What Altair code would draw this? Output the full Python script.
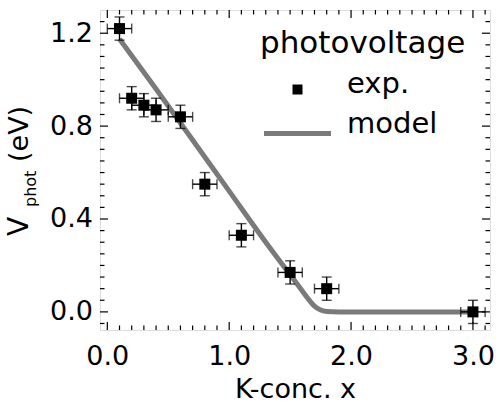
import altair as alt
import pandas as pd

# Experimental photovoltage vs. potassium concentration
conc = [0.1, 0.2, 0.3, 0.4, 0.6, 0.8, 1.1, 1.5, 1.8, 3.0]
vphot = [1.22, 0.92, 0.89, 0.87, 0.84, 0.55, 0.33, 0.17, 0.10, 0.00]
conc_err = [0.1, 0.1, 0.1, 0.1, 0.1, 0.1, 0.1, 0.1, 0.1, 0.1]
vphot_err = [0.05, 0.05, 0.05, 0.05, 0.05, 0.05, 0.05, 0.05, 0.05, 0.05]

# Model curve
model_x = [0.1, 0.4, 0.7, 1.0, 1.3, 1.5, 1.6, 1.65, 1.7, 1.75, 1.8, 1.9, 2.0, 3.0]
model_y = [1.175, 0.96, 0.74, 0.52, 0.30, 0.16, 0.09, 0.055, 0.025, 0.008, 0.002, 0.0, 0.0, 0.0]

# Axis ticks and labels
x_major = [0.0, 1.0, 2.0, 3.0]
y_major = [0.0, 0.4, 0.8, 1.2]
x_minor = [round(i * 0.1, 2) for i in range(0, 32) if i % 10 != 0]
y_minor = [round(-0.05 + i * 0.05, 2) for i in range(0, 27) if round(-0.05 + i * 0.05, 2) not in y_major]

legend_title = "photovoltage"
legend_labels = ["exp.", "model"]

W, H = 390, 320
FONT = "DejaVu Sans"
GRAY = "#7a7a7a"

xs = alt.Scale(domain=[-0.06, 3.14], nice=False, zero=False)
ys = alt.Scale(domain=[-0.078, 1.30], nice=False, zero=False)

pts = pd.DataFrame({
    "x": conc, "y": vphot,
    "xlo": [a - b for a, b in zip(conc, conc_err)],
    "xhi": [a + b for a, b in zip(conc, conc_err)],
    "ylo": [a - b for a, b in zip(vphot, vphot_err)],
    "yhi": [a + b for a, b in zip(vphot, vphot_err)],
})
model = pd.DataFrame({"x": model_x, "y": model_y})

x_axis = alt.Axis(values=x_major, format=".1f", title="K-conc. x", grid=False,
                  domain=False, ticks=False, tickSize=0, labelFontSize=27,
                  labelFont=FONT, labelColor="black", labelPadding=13,
                  titleFont=FONT, titleFontSize=27, titleFontWeight="normal",
                  titleColor="black", titleBaseline="alphabetic", titleY=67)
y_axis = alt.Axis(values=y_major, format=".1f", title=None, grid=False,
                  domain=False, ticks=False, tickSize=0, labelFontSize=27,
                  labelFont=FONT, labelColor="black", labelPadding=7.5)


def X(field):
    return alt.X(field, scale=xs, axis=x_axis)


def Y(field):
    return alt.Y(field, scale=ys, axis=y_axis)


model_line = alt.Chart(model).mark_line(
    color=GRAY, strokeWidth=5, interpolate="monotone"
).encode(x=X("x:Q"), y=Y("y:Q"))

base = alt.Chart(pts)
ERR = dict(color="black")
xerr = base.mark_rule(strokeWidth=1.4, **ERR).encode(x=X("xlo:Q"), x2="xhi:Q", y=Y("y:Q"))
yerr = base.mark_rule(strokeWidth=1.4, **ERR).encode(x=X("x:Q"), y=Y("ylo:Q"), y2="yhi:Q")
cap_lo = base.mark_tick(orient="vertical", size=10, thickness=1.4, **ERR).encode(
    x=X("xlo:Q"), y=Y("y:Q"))
cap_hi = base.mark_tick(orient="vertical", size=10, thickness=1.4, **ERR).encode(
    x=X("xhi:Q"), y=Y("y:Q"))
cap_bot = base.mark_tick(orient="horizontal", size=10, thickness=1.4, **ERR).encode(
    x=X("x:Q"), y=Y("ylo:Q"))
cap_top = base.mark_tick(orient="horizontal", size=10, thickness=1.4, **ERR).encode(
    x=X("x:Q"), y=Y("yhi:Q"))
squares = base.mark_square(color="black", size=121, opacity=1).encode(
    x=X("x:Q"), y=Y("y:Q"))


def xticks(vals, length):
    d = alt.Chart(pd.DataFrame({"t": vals}))
    bottom = d.mark_rule(color="black", strokeWidth=1.2).encode(
        x=X("t:Q"), y=alt.value(H), y2=alt.value(H - length))
    top = d.mark_rule(color="black", strokeWidth=1.2).encode(
        x=X("t:Q"), y=alt.value(0), y2=alt.value(length))
    return [bottom, top]


def yticks(vals, length):
    d = alt.Chart(pd.DataFrame({"t": vals}))
    left = d.mark_rule(color="black", strokeWidth=1.2).encode(
        y=Y("t:Q"), x=alt.value(0), x2=alt.value(length))
    right = d.mark_rule(color="black", strokeWidth=1.2).encode(
        y=Y("t:Q"), x=alt.value(W), x2=alt.value(W - length))
    return [left, right]


tick_layers = (xticks(x_major, 8) + xticks(x_minor, 4.5)
               + yticks(y_major, 8) + yticks(y_minor, 4.5))

# y-axis title with subscript
one = pd.DataFrame({"k": [0]})


def label(txt, x, y, size, angle=0):
    return alt.Chart(one).mark_text(
        text=txt, font=FONT, fontSize=size, color="black", angle=angle,
        align="left", baseline="alphabetic"
    ).encode(x=alt.value(x), y=alt.value(y))


ytitle = [
    label("V", -72, 226, 28, angle=270),
    label("phot", -64, 197, 16, angle=270),
    label("(eV)", -72, 152, 27, angle=270),
]

# legend
legend = [
    label(legend_title, 160, 43, 31),
    label(legend_labels[0], 247, 83, 29),
    label(legend_labels[1], 247, 123, 29),
    alt.Chart(one).mark_square(color="black", size=100, opacity=1).encode(
        x=alt.value(197.5), y=alt.value(79.5)),
    alt.Chart(one).mark_rule(color=GRAY, strokeWidth=5).encode(
        x=alt.value(164), x2=alt.value(231), y=alt.value(123.5)),
]

chart = alt.layer(
    model_line, xerr, yerr, cap_lo, cap_hi, cap_bot, cap_top, squares,
    *tick_layers, *ytitle, *legend
).properties(
    width=W, height=H,
    autosize=alt.AutoSizeParams(type="none"),
    padding={"left": 100, "top": 10, "right": 6, "bottom": 73},
).configure_view(
    stroke="black", strokeWidth=1.5
).configure(background="white")

chart.save("out.html", embed_options={"renderer": "svg", "actions": False})
